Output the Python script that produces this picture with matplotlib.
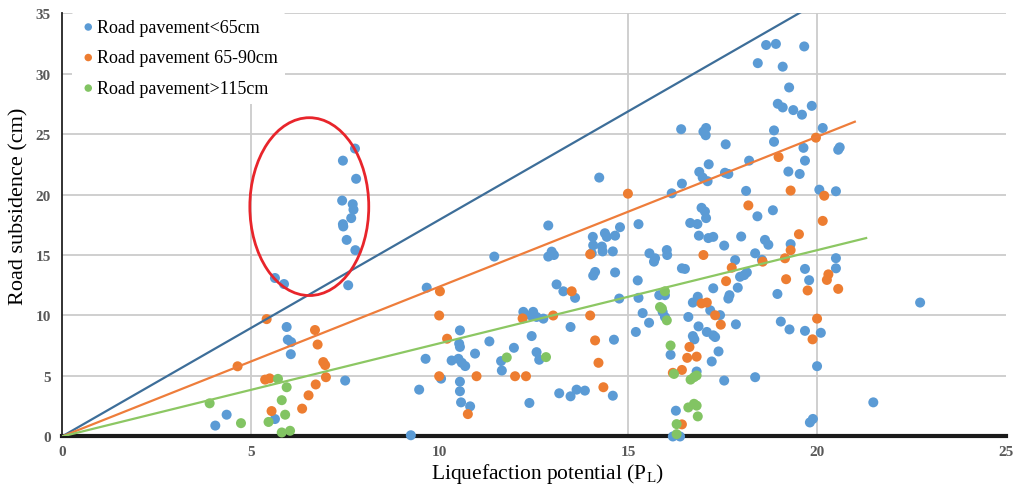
import matplotlib
matplotlib.use('Agg')
import matplotlib.pyplot as plt
from matplotlib.patches import Ellipse

# Road pavement < 65 cm
blue_x = [5.64, 5.88, 5.95, 5.98, 6.07, 6.06, 4.36, 4.06, 5.64,
          7.76, 7.44, 7.79, 7.42, 7.70, 7.72, 7.66, 7.44, 7.45, 7.54, 7.77, 7.58, 7.50,
          9.66, 9.46, 9.24, 9.63, 10.04, 10.54, 10.52, 10.54, 10.32, 10.5, 10.59, 10.68,
          10.54, 10.54, 10.57, 10.81, 10.94, 11.32, 11.45, 11.63, 11.65, 11.97, 12.22,
          12.48, 12.42, 12.57, 12.75, 12.44, 12.57, 12.64, 12.38, 12.88, 12.97, 12.88,
          13.03, 13.1, 13.28, 13.59, 13.47, 13.17, 13.47, 13.63, 13.85, 14.06, 14.07,
          14.03, 14.12, 14.07, 14.23,
          14.38, 14.43, 14.65, 14.78, 14.3, 14.32, 14.59, 14.65, 14.76, 14.62, 14.59,
          15.27, 15.25, 15.27, 15.38, 15.55, 15.2, 15.56, 15.68, 15.71, 16.02, 16.03,
          15.82, 15.97, 15.91, 15.97, 16.15, 16.42, 16.42, 16.5, 16.12, 16.26, 16.18,
          16.37, 16.64, 16.83, 16.87, 16.94, 17.03, 17.06, 16.88, 17.13, 16.97, 17.1,
          17.12, 17.25, 17.54, 16.71, 16.84, 16.59, 16.86, 16.71, 16.75, 17.08, 17.25,
          17.3, 17.17, 17.43, 17.25, 17.65, 17.68, 17.83, 17.85, 17.39, 17.21, 16.81,
          17.54, 17.99, 17.96, 18.07, 18.14, 17.9, 18.12, 18.2, 18.36, 18.42, 18.36,
          17.56, 17.65,
          18.86, 18.86, 19.64, 20.15, 20.56, 20.6, 19.68, 19.24, 19.54, 20.06, 20.5,
          18.83, 18.62, 18.71, 19.3, 20.5, 20.5, 19.68, 19.79, 18.95, 18.54, 19.04,
          19.27, 19.68, 20.1, 20.0, 21.49, 19.81, 19.89, 22.73,
          18.65, 18.91, 19.66, 18.43, 19.09, 19.26, 18.96, 19.09, 19.37, 19.6, 19.86,
          16.4, 17.06, 16.99, 17.05, 17.58]
blue_y = [13.1, 12.6, 9.05, 8.0, 7.8, 6.8, 1.8, 0.9, 1.44,
          23.8, 22.8, 21.3, 19.5, 19.2, 18.75, 18.05, 17.55, 17.36, 16.25, 15.4, 12.5, 4.62,
          12.3, 3.87, 0.1, 6.42, 4.78, 8.77, 7.67, 7.4, 6.28, 6.42, 6.09, 5.82,
          4.53, 3.74, 2.82, 2.49, 6.85, 7.86, 14.87, 6.23, 5.45, 7.33, 10.3,
          10.3, 10.0, 9.88, 9.74, 8.3, 6.97, 6.34, 2.77, 17.44, 15.28, 14.87,
          15.0, 12.57, 12.0, 11.46, 9.05, 3.57, 3.32, 3.87, 3.79, 16.5, 15.8,
          15.15, 13.6, 13.3, 21.4,
          16.8, 16.5, 16.6, 17.3, 15.7, 15.3, 15.3, 13.56, 11.4, 8.0, 3.37,
          17.55, 12.9, 11.46, 10.2, 9.4, 8.64, 15.14, 14.45, 14.73, 15.41, 15.0,
          11.68, 11.68, 10.3, 9.88, 20.1, 20.9, 13.9, 13.85, 6.75, 2.13, 0.0,
          0.0, 17.65, 17.56, 16.6, 18.9, 18.6, 18.05, 21.87, 22.5, 21.4, 21.1,
          16.4, 16.5, 15.78, 11.07, 11.55, 9.88, 9.1, 8.3, 8.03, 8.64, 8.36,
          8.22, 10.43, 10.03, 12.25, 11.4, 11.68, 14.58, 9.27, 7.03, 6.2, 5.37,
          4.62, 16.53, 13.2, 13.34, 13.56, 12.3, 20.3, 22.8, 4.9, 18.2, 15.14,
          21.8, 21.7,
          25.3, 24.36, 23.86, 25.5, 23.7, 23.9, 22.8, 21.9, 21.7, 20.4, 20.27,
          18.7, 16.25, 15.85, 15.9, 14.74, 13.9, 13.85, 12.92, 11.78, 14.6, 9.5,
          8.85, 8.73, 8.57, 5.81, 2.82, 1.16, 1.45, 11.07,
          32.36, 32.45, 32.24, 30.86, 30.57, 28.85, 27.5, 27.2, 26.98, 26.6, 27.33,
          25.4, 25.5, 25.2, 24.9, 24.15]

# Road pavement 65-90 cm
orange_x = [5.42, 4.65, 5.38, 5.5, 6.7, 6.77, 6.92, 6.97, 6.99, 6.72, 6.53, 6.36, 5.55,
            10.01, 9.99, 10.2, 9.99, 10.98, 10.75, 12.0, 12.29, 12.2, 13.01, 13.5,
            13.99, 13.99, 14.12, 14.21,
            14.99, 14.34, 16.99, 17.74, 17.59, 16.94, 17.08, 17.3, 17.45, 16.62, 16.56,
            16.81, 16.42, 16.18, 16.42, 18.18,
            19.97, 18.98, 19.3, 20.19, 20.15, 19.52, 19.3, 19.15, 18.56, 19.18, 20.3,
            20.26, 19.75, 20.56, 20.0, 19.88]
orange_y = [9.7, 5.8, 4.7, 4.8, 8.8, 7.6, 6.15, 5.9, 4.9, 4.3, 3.4, 2.3, 2.1,
            12.0, 10.0, 8.08, 4.98, 4.98, 1.85, 4.98, 4.98, 9.76, 10.0, 12.0,
            10.0, 15.06, 7.94, 6.09,
            20.07, 4.07, 15.0, 13.95, 12.84, 11.0, 11.07, 10.02, 9.24, 7.4, 6.5,
            6.6, 5.5, 5.26, 1.0, 19.1,
            24.7, 23.1, 20.33, 19.9, 17.82, 16.72, 15.4, 14.73, 14.45, 13.0, 13.4,
            12.94, 12.07, 12.2, 9.74, 8.03]

# Road pavement > 115 cm
green_x = [5.72, 5.95, 3.91, 5.82, 5.91, 4.74, 5.47, 5.82, 6.04,
           11.78, 12.82,
           15.97, 15.84, 15.89, 16.02, 16.12, 16.21, 16.65, 16.74, 16.81, 16.59, 16.74,
           16.81, 16.84, 16.28, 16.28]
green_y = [4.76, 4.07, 2.74, 3.0, 1.8, 1.1, 1.2, 0.33, 0.47,
           6.53, 6.56,
           12.0, 10.7, 10.57, 9.6, 7.52, 5.17, 4.7, 4.9, 5.04, 2.4, 2.7,
           2.55, 1.66, 1.02, 0.19]

labels = ['Road pavement<65cm', 'Road pavement 65-90cm', 'Road pavement>115cm']
# trend lines through the origin: slope and x where each line stops
slopes = [1.792, 1.239, 0.770]
line_end = [22.7, 21.0, 21.3]

marker_cols = ['#5B9BD5', '#ED7D31', '#82C463']
line_cols = ['#3D6E99', '#EE7D3B', '#8CC763']

plt.rcParams['font.family'] = ['Liberation Serif', 'DejaVu Serif']

fig = plt.figure(figsize=(10.17, 4.85), dpi=100)
ax = fig.add_axes([0.061, 0.098, 0.928, 0.873])

series = [(blue_x, blue_y), (orange_x, orange_y), (green_x, green_y)]
for (xs, ys), col, lab in zip(series, marker_cols, labels):
    ax.scatter(xs, ys, s=52, color=col, edgecolors='none', label=lab,
               zorder=3, clip_on=False)

for k, xe, col in zip(slopes, line_end, line_cols):
    ax.plot([0, xe], [0, k * xe], color=col, lw=1.6, zorder=4)

# outlier group
ax.add_patch(Ellipse((6.55, 19.0), 3.15, 14.7, fill=False,
                     edgecolor='#E8252B', lw=2.0, zorder=5))

ax.set_xlim(0, 25)
ax.set_ylim(0, 35)
ax.set_xticks(range(0, 26, 5))
ax.set_yticks(range(0, 36, 5))

for yv in range(5, 36, 5):
    ax.axhline(yv, color='#CCCCCC', lw=1.3, zorder=1)
for xv in [5, 15, 20]:
    ax.axvline(xv, color='#CCCCCC', lw=1.3, zorder=1)

for s in ['top', 'right']:
    ax.spines[s].set_visible(False)
ax.spines['left'].set_linewidth(1.3)
ax.spines['left'].set_color('#222222')
ax.spines['bottom'].set_linewidth(3.0)
ax.spines['bottom'].set_color('#1a1a1a')
ax.spines['bottom'].set_zorder(2)

ax.tick_params(length=0, labelsize=11, labelcolor='#595959')
ax.tick_params(axis='x', pad=6)
ax.tick_params(axis='y', pad=8)
for t in ax.get_xticklabels() + ax.get_yticklabels():
    t.set_fontweight('bold')

ax.set_xlabel('Liquefaction potential (P$_\\mathregular{L}$)', fontsize=15.5)
ax.set_ylabel('Road subsidence (cm)', fontsize=16)
ax.xaxis.set_label_coords(0.515, -0.059)
ax.yaxis.set_label_coords(-0.036, 0.545)

leg = ax.legend(loc='upper left', bbox_to_anchor=(0.001, 1.025), fontsize=13,
                frameon=True, facecolor='white', edgecolor='none', framealpha=1,
                handletextpad=0.0, labelspacing=0.75, borderpad=0.4,
                handlelength=1.0, markerscale=0.75)
leg.set_zorder(6)

fig.savefig('out.png', dpi=100)
